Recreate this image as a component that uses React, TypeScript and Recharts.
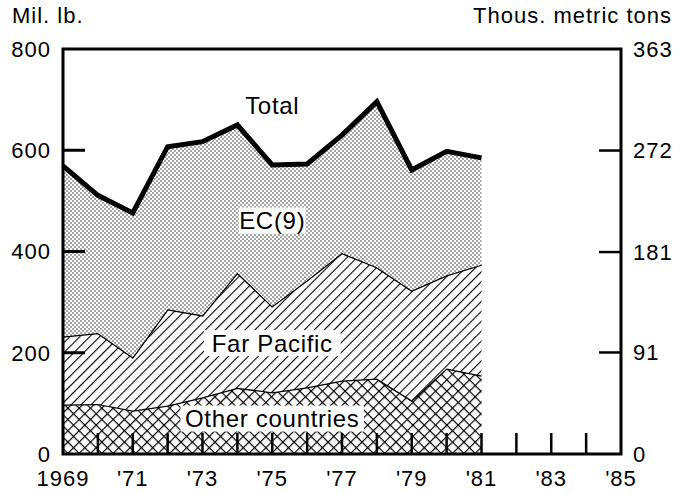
import React from 'react';
import { ComposedChart, Area, XAxis, YAxis, ReferenceArea, ReferenceDot } from 'recharts';

// U.S. exports by destination, million pounds (stacked)
const years = [1969, 1970, 1971, 1972, 1973, 1974, 1975, 1976, 1977, 1978, 1979, 1980, 1981];
const otherCountries = [98, 99, 86, 96, 112, 131, 122, 132, 145, 149, 106, 169, 155];
const farPacific = [134, 140, 105, 190, 162, 227, 170, 211, 252, 220, 217, 184, 219];
const ec9 = [337, 272, 285, 321, 343, 292, 279, 230, 233, 327, 238, 245, 211];

const xTicks = [1969, 1970, 1971, 1972, 1973, 1974, 1975, 1976, 1977, 1978, 1979, 1980, 1981, 1982, 1983, 1984, 1985];
const xLabelYears = [1969, 1971, 1973, 1975, 1977, 1979, 1981, 1983, 1985];
const xLabelTexts = ['1969', "'71", "'73", "'75", "'77", "'79", "'81", "'83", "'85"];
const leftTicks = [0, 200, 400, 600, 800];
const leftInnerTicks = [200, 400, 600];
const rightTicks = [0, 91, 181, 272, 363];

const data = years.map((year, i) => ({
  year,
  other: otherCountries[i],
  farPacific: farPacific[i],
  ec: ec9[i],
}));

const FONT = '"Liberation Sans", Arial, Helvetica, sans-serif';
const PLOT_LEFT = 63;
const PLOT_TOP = 49;
const PLOT_BOTTOM = 454;
const LB_MAX = 800;

const annotations = [
  { text: 'Total', year: 1975, value: 689, box: false },
  { text: 'EC(9)', year: 1975, value: 461, box: true },
  { text: 'Far Pacific', year: 1975, value: 219, box: true },
  { text: 'Other countries', year: 1975, value: 70, box: true },
];

const LeftTick = (props: any) => {
  const x = Number(props.x);
  const y = Number(props.y);
  const v = Number(props.payload.value);
  return (
    <text x={x - 12} y={y} dy="0.36em" textAnchor="end" fontSize={22} letterSpacing={1} fill="#000" fontFamily={FONT}>
      {v}
    </text>
  );
};

const RightTick = (props: any) => {
  const x = Number(props.x);
  const y = Number(props.y);
  const v = Number(props.payload.value);
  const inner = v > 0 && v < 363;
  return (
    <g>
      {inner ? <path d={`M${x - 22},${y}H${x}`} stroke="#000" strokeWidth={2.5} fill="none" /> : null}
      <text x={x + 12} y={y} dy="0.36em" textAnchor="start" fontSize={22} letterSpacing={1} fill="#000" fontFamily={FONT}>
        {v}
      </text>
    </g>
  );
};

const BottomTick = (props: any) => {
  const x = Number(props.x);
  const y = Number(props.y);
  const v = Number(props.payload.value);
  const idx = xLabelYears.indexOf(v);
  return (
    <g>
      {v > 1969 && v < 1985 ? <path d={`M${x},${y}V${y - 21}`} stroke="#000" strokeWidth={2.5} fill="none" /> : null}
      {idx >= 0 && (
        <text x={x} y={y + 32} textAnchor="middle" fontSize={22} letterSpacing={1} fill="#000" fontFamily={FONT}>
          {xLabelTexts[idx]}
        </text>
      )}
    </g>
  );
};

const makeLabelShape = (text: string, box: boolean) => (props: any) => {
  const cx = Number(props.cx);
  const cy = Number(props.cy);
  const w = text.length * 11.7 + 8;
  return (
    <g>
      {box && <rect x={cx - w / 2} y={cy - 13} width={w} height={26} fill="#fff" />}
      <text x={cx} y={cy} dy="0.36em" textAnchor="middle" fontSize={24} letterSpacing={0.7} fill="#000" fontFamily={FONT}>
        {text}
      </text>
    </g>
  );
};

// inward tick marks on the left frame edge, same linear scale as the left axis
const lbToY = (v: number) => PLOT_BOTTOM - (v / LB_MAX) * (PLOT_BOTTOM - PLOT_TOP);

export default function App() {
  return (
    <div style={{ position: 'absolute', left: 0, top: 0, width: 687, height: 494, background: '#fff' }}>
      <svg width={0} height={0} style={{ position: 'absolute' }}>
        <defs>
          <pattern id="dots" width={4} height={4} patternUnits="userSpaceOnUse">
            <rect width={4} height={4} fill="#fff" />
            <circle cx={1} cy={1} r={0.75} fill="#222" />
            <circle cx={3} cy={3} r={0.75} fill="#222" />
          </pattern>
          <pattern id="hatch" width={7} height={7} patternUnits="userSpaceOnUse" patternTransform="rotate(45)">
            <rect width={7} height={7} fill="#fff" />
            <line x1={0} y1={0} x2={0} y2={7} stroke="#000" strokeWidth={2.2} />
          </pattern>
          <pattern id="cross" width={8} height={8} patternUnits="userSpaceOnUse" patternTransform="rotate(45)">
            <rect width={8} height={8} fill="#fff" />
            <line x1={0} y1={0} x2={0} y2={8} stroke="#000" strokeWidth={2.4} />
            <line x1={0} y1={0} x2={8} y2={0} stroke="#000" strokeWidth={2.4} />
          </pattern>
        </defs>
      </svg>
      <ComposedChart width={687} height={494} data={data} margin={{ top: PLOT_TOP, right: 0, bottom: 0, left: 0 }}>
        <XAxis
          dataKey="year"
          type="number"
          domain={[1969, 1985]}
          ticks={xTicks}
          interval={0}
          axisLine={false}
          tickLine={false}
          tickSize={0}
          tickMargin={0}
          height={494 - PLOT_BOTTOM}
          tick={(p: any) => <BottomTick {...p} />}
        />
        <YAxis
          yAxisId="left"
          domain={[0, LB_MAX]}
          ticks={leftTicks}
          interval={0}
          axisLine={false}
          tickLine={false}
          tickSize={0}
          tickMargin={0}
          width={PLOT_LEFT}
          tick={(p: any) => <LeftTick {...p} />}
        />
        <YAxis
          yAxisId="right"
          orientation="right"
          domain={[0, 363]}
          allowDataOverflow
          ticks={rightTicks}
          interval={0}
          axisLine={false}
          tickLine={false}
          tickSize={0}
          tickMargin={0}
          width={66}
          tick={(p: any) => <RightTick {...p} />}
        />
        <Area yAxisId="left" type="linear" dataKey="other" stackId="a" fill="url(#cross)" fillOpacity={1} stroke="#000" strokeWidth={2.5} isAnimationActive={false} />
        <Area yAxisId="left" type="linear" dataKey="farPacific" stackId="a" fill="url(#hatch)" fillOpacity={1} stroke="#000" strokeWidth={2.5} isAnimationActive={false} />
        <Area yAxisId="left" type="linear" dataKey="ec" stackId="a" fill="url(#dots)" fillOpacity={1} stroke="#000" strokeWidth={5} strokeLinejoin="miter" isAnimationActive={false} />
        {/* metric scale shares the frame; this invisible series only ties the right axis in */}
        <Area yAxisId="right" type="linear" dataKey="other" stackId="metric" fill="none" stroke="none" isAnimationActive={false} />
        <ReferenceArea yAxisId="left" x1={1969} x2={1985} y1={0} y2={LB_MAX} fill="none" stroke="#000" strokeWidth={3} ifOverflow="visible" />
        {annotations.map((a) => (
          <ReferenceDot key={a.text} yAxisId="left" x={a.year} y={a.value} r={0} shape={makeLabelShape(a.text, a.box)} />
        ))}
      </ComposedChart>
      <svg width={687} height={494} style={{ position: 'absolute', left: 0, top: 0, pointerEvents: 'none' }}>
        {leftInnerTicks.map((v) => (
          <path key={v} d={`M${PLOT_LEFT},${lbToY(v)}H${PLOT_LEFT + 22}`} stroke="#000" strokeWidth={3} fill="none" />
        ))}
        <text x={12} y={23} fontSize={22} letterSpacing={1} fill="#000" fontFamily={FONT}>Mil. lb.</text>
        <text x={672} y={23} textAnchor="end" fontSize={22} letterSpacing={1} fill="#000" fontFamily={FONT}>Thous. metric tons</text>
      </svg>
    </div>
  );
}
